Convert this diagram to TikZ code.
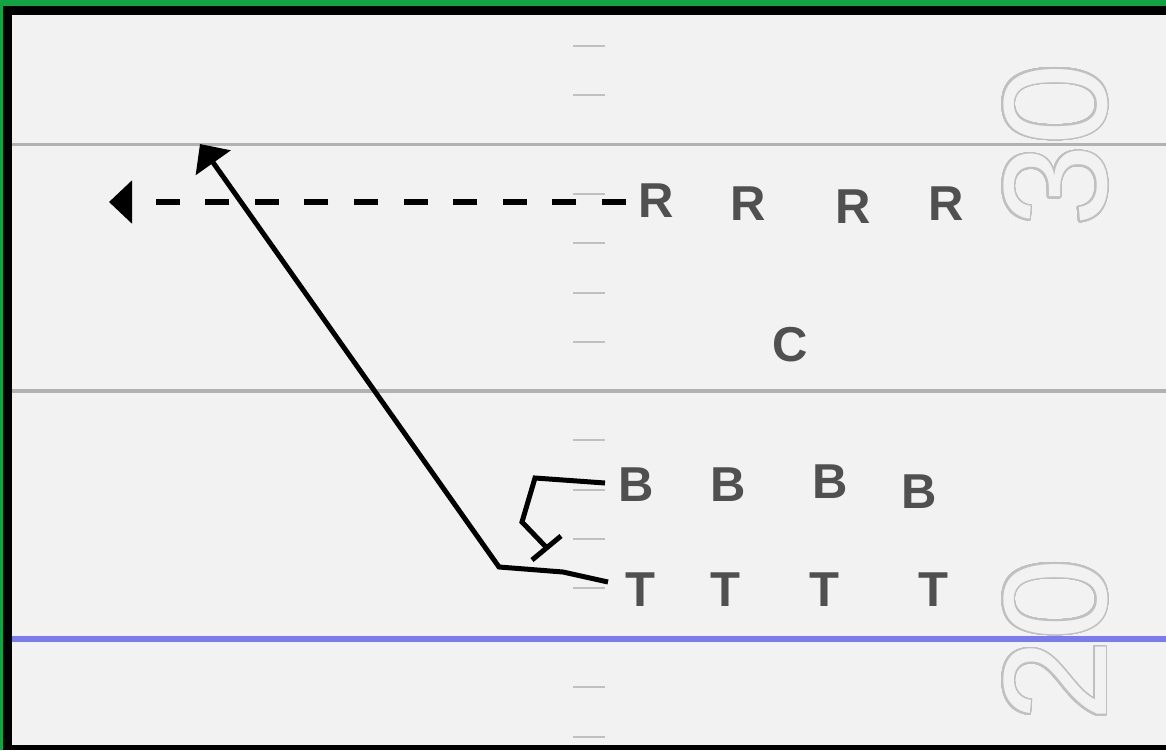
\documentclass[tikz,border=0pt]{standalone}
\usepackage{fontspec}
\setmainfont{Liberation Sans}
\usepackage[copies]{contour}
\usetikzlibrary{arrows.meta}

\definecolor{fieldbg}{RGB}{242,242,242}
\definecolor{edgegreen}{RGB}{18,163,66}
\definecolor{yardgray}{RGB}{178,178,178}
\definecolor{hashgray}{RGB}{192,192,192}
\definecolor{losblue}{RGB}{123,123,240}
\definecolor{numgray}{RGB}{192,192,192}
\definecolor{playergray}{RGB}{80,80,80}

\contourlength{1.7pt}
\contournumber{64}

\tikzset{
  player/.style={font=\fontsize{49}{49}\selectfont\bfseries, text=playergray, inner sep=0pt, anchor=center},
  yardline/.style={draw=yardgray, line width=3.5pt},
  losline/.style={draw=losblue, line width=6pt},
  hashmark/.style={draw=hashgray, line width=2pt},
  route/.style={draw=black, line width=5pt},
  motion/.style={draw=black, line width=5.5pt, dash pattern=on 24pt off 25.6pt},
  bigtip/.tip={Triangle[length=23pt,width=42pt]},
  fieldnum/.style={rotate=90, anchor=base, inner sep=0pt, font=\fontsize{147}{147}\selectfont}
}

% hollow numerals: a grey ring round glyphs filled with the field colour
\newcommand{\hollow}[1]{\contour{numgray}{\textcolor{fieldbg}{#1}}}

\begin{document}
\begin{tikzpicture}[x=1pt,y=-1pt]
  \useasboundingbox (0,0) rectangle (1166,750);

  % frame and field
  \fill[edgegreen] (0,0) rectangle (1166,750);
  \fill[black] (3,6) rectangle (1166,750);
  \fill[fieldbg] (12,15) rectangle (1166,745);

  % yard numbers
  \node[fieldnum] (n30) at (1106,145) {\hollow{30}};
  \node[fieldnum] (n20) at (1106,640) {\hollow{20}};

  % yard lines and line of scrimmage
  \draw[yardline] (12,144.5) -- (1166,144.5);
  \draw[yardline] (12,391) -- (1166,391);
  \draw[losline] (12,639) -- (1166,639);

  % hash marks
  \foreach \y in {45.8, 95.15, 193.85, 243.2, 292.55, 341.9, 440.35, 489.7, 539.05, 588.4, 687.35, 736.7}
    \draw[hashmark] (573,\y) -- (605,\y);

  % players
  \node[player] (r1) at (656,200.5) {R};
  \node[player] (r2) at (748.5,204) {R};
  \node[player] (r3) at (853.5,206.5) {R};
  \node[player] (r4) at (946.5,204) {R};
  \node[player] (c1) at (790,344.5) {C};
  \node[player] (b1) at (636.5,485) {B};
  \node[player] (b2) at (728.5,485) {B};
  \node[player] (b3) at (830.5,482) {B};
  \node[player] (b4) at (919.5,491.5) {B};
  \node[player] (t1) at (640,589.5) {T};
  \node[player] (t2) at (725.5,589.5) {T};
  \node[player] (t3) at (824.5,589.5) {T};
  \node[player] (t4) at (933,589.5) {T};

  % route points
  \coordinate (mstart) at (626,202);
  \coordinate (mtip) at (109,202);
  \coordinate (bstart) at (605,483);
  \coordinate (bk1) at (535,478);
  \coordinate (bk2) at (522,522);
  \coordinate (bend) at (546,547);
  \coordinate (barA) at (532,560);
  \coordinate (barB) at (561,536);
  \coordinate (tstart) at (608,582);
  \coordinate (tk1) at (563,572);
  \coordinate (tk2) at (499,567);
  \coordinate (ttip) at (200,144);

  % motion of the first receiver
  \draw[motion, -{bigtip}] (mstart) -- (mtip);

  % block by the first back
  \draw[route] (bstart) -- (bk1) -- (bk2) -- (bend);
  \draw[route] (barA) -- (barB);

  % deep route by the first tight end
  \draw[route, -{bigtip}] (tstart) -- (tk1) -- (tk2) -- (ttip);
\end{tikzpicture}
\end{document}
